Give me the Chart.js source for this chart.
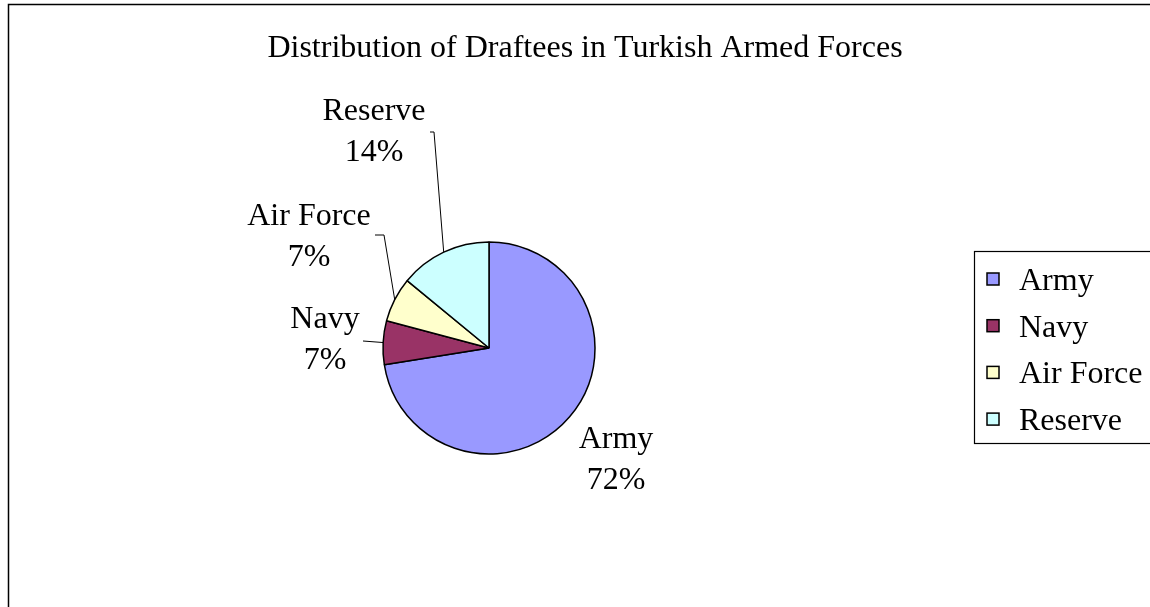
<!DOCTYPE html>
<html>
<head>
<meta charset="utf-8">
<script src="https://cdn.jsdelivr.net/npm/chart.js@4/dist/chart.umd.min.js"></script>
<style>
  html, body { margin: 0; padding: 0; background: #fff; }
  #wrap { width: 1150px; height: 607px; }
</style>
</head>
<body>
<div id="wrap"><canvas id="chart-pie" width="1150" height="607"></canvas></div>
<script>
// Data
var categories = ['Army', 'Navy', 'Air Force', 'Reserve'];
var draftees   = [72.49, 6.66, 6.8, 14.05];
var colors     = ['#9999FF', '#993366', '#FFFFCC', '#CCFFFF'];
var chartTitle = 'Distribution of Draftees in Turkish Armed Forces';

// Label placement (text centre x, first baseline y) and leader line start
var labelPos = [
  { x: 616, y: 448, line: null },
  { x: 325, y: 328, line: [[363, 341]] },
  { x: 309, y: 225, line: [[375, 235], [384, 235]] },
  { x: 374, y: 120, line: [[430, 132], [434, 132]] }
];

var FONT = '32px "Liberation Serif", "Times New Roman", serif';

var decorPlugin = {
  id: 'decor',
  afterDraw: function(chart) {
    var ctx = chart.ctx;
    var total = draftees.reduce(function(a, b) { return a + b; }, 0);
    var arcs = chart.getDatasetMeta(0).data;

    ctx.save();
    // outer frame
    ctx.strokeStyle = '#000';
    ctx.lineWidth = 1.5;
    ctx.strokeRect(8.5, 4.5, 1160, 620);

    // title
    ctx.fillStyle = '#000';
    ctx.font = FONT;
    ctx.textAlign = 'center';
    ctx.textBaseline = 'alphabetic';
    ctx.fillText(chartTitle, 585, 57);

    // leader lines
    ctx.lineWidth = 1;
    ctx.strokeStyle = '#000';
    arcs.forEach(function(arc, i) {
      var lp = labelPos[i];
      if (!lp.line) return;
      var p = arc.getProps(['x', 'y', 'startAngle', 'endAngle', 'outerRadius'], true);
      var mid = (p.startAngle + p.endAngle) / 2;
      ctx.beginPath();
      ctx.moveTo(lp.line[0][0], lp.line[0][1]);
      for (var k = 1; k < lp.line.length; k++) ctx.lineTo(lp.line[k][0], lp.line[k][1]);
      ctx.lineTo(p.x + Math.cos(mid) * p.outerRadius, p.y + Math.sin(mid) * p.outerRadius);
      ctx.stroke();
    });

    // slice labels
    categories.forEach(function(name, i) {
      var lp = labelPos[i];
      var pct = Math.round(draftees[i] / total * 100) + '%';
      ctx.fillText(name, lp.x, lp.y);
      ctx.fillText(pct, lp.x, lp.y + 41);
    });

    // legend
    ctx.strokeStyle = '#000';
    ctx.lineWidth = 1.2;
    ctx.strokeRect(974.5, 251.5, 200, 192);
    ctx.textAlign = 'left';
    categories.forEach(function(name, i) {
      var cy = 279 + i * 46.7;
      ctx.fillStyle = colors[i];
      ctx.fillRect(987, cy - 6, 12, 12);
      ctx.strokeStyle = '#000';
      ctx.lineWidth = 1.5;
      ctx.strokeRect(987, cy - 6, 12, 12);
      ctx.fillStyle = '#000';
      ctx.fillText(name, 1019, cy + 11);
    });
    ctx.restore();
  }
};

var pieChart = new Chart(document.getElementById('chart-pie').getContext('2d'), {
  type: 'pie',
  data: {
    labels: categories,
    datasets: [{
      data: draftees,
      backgroundColor: colors,
      borderColor: '#000',
      borderWidth: 1.5
    }]
  },
  options: {
    responsive: false,
    animation: false,
    radius: 106,
    layout: { padding: { left: 383, right: 555, top: 242, bottom: 153 } },
    plugins: {
      legend: { display: false },
      title: { display: false },
      tooltip: { enabled: false }
    }
  },
  plugins: [decorPlugin]
});
</script>
</body>
</html>
